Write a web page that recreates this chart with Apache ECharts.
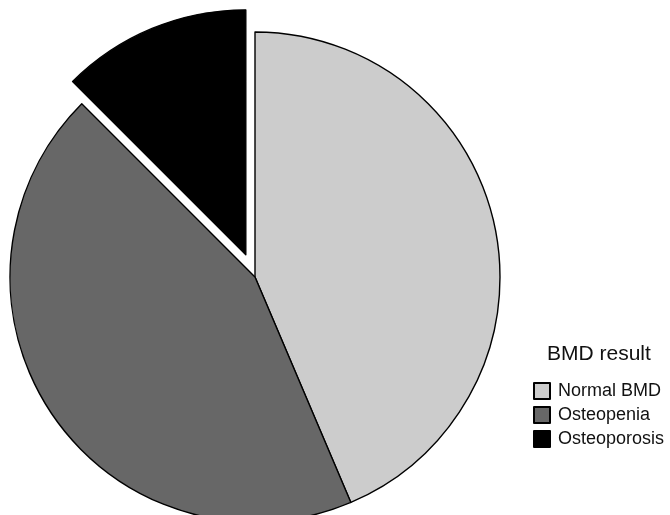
<!DOCTYPE html>
<html><head><meta charset="utf-8">
<script src="https://cdn.jsdelivr.net/npm/echarts@6/dist/echarts.min.js"></script>
<style>html,body{margin:0;padding:0;background:#fff}#c{width:670px;height:515px}</style>
</head><body><div id="c"></div>
<script>
var categories = ['Normal BMD', 'Osteopenia', 'Osteoporosis'];
var values = [43.6, 43.9, 12.5];
var colors = ['#cccccc', '#676767', '#000000'];
var legendTitle = 'BMD result';

var chart = echarts.init(document.getElementById('c'), null, {renderer: 'canvas'});
var data = categories.map(function (n, i) {
  return {name: n, value: values[i], selected: i === 2, itemStyle: {color: colors[i]}};
});
chart.setOption({
  animation: false,
  textStyle: {fontFamily: 'Liberation Sans, Arial, sans-serif'},
  title: {
    text: legendTitle, left: 547, top: 344, padding: 0,
    textStyle: {fontSize: 21, fontWeight: 'normal', color: '#111', fontFamily: 'Liberation Sans, Arial, sans-serif'}
  },
  legend: {
    orient: 'vertical', left: 533, top: 382, padding: 0, itemWidth: 16, itemHeight: 16, itemGap: 6,
    icon: 'rect', selectedMode: false,
    data: categories,
    textStyle: {fontSize: 18, lineHeight: 16, color: '#111', padding: [0, 0, 0, 3]}
  },
  series: [{
    type: 'pie', center: [255, 277], radius: 245, startAngle: 90, clockwise: true,
    selectedMode: 'multiple', selectedOffset: 24,
    label: {show: false}, labelLine: {show: false},
    itemStyle: {borderColor: '#000', borderWidth: 1.4},
    emphasis: {disabled: true},
    data: data
  }]
});
</script></body></html>
